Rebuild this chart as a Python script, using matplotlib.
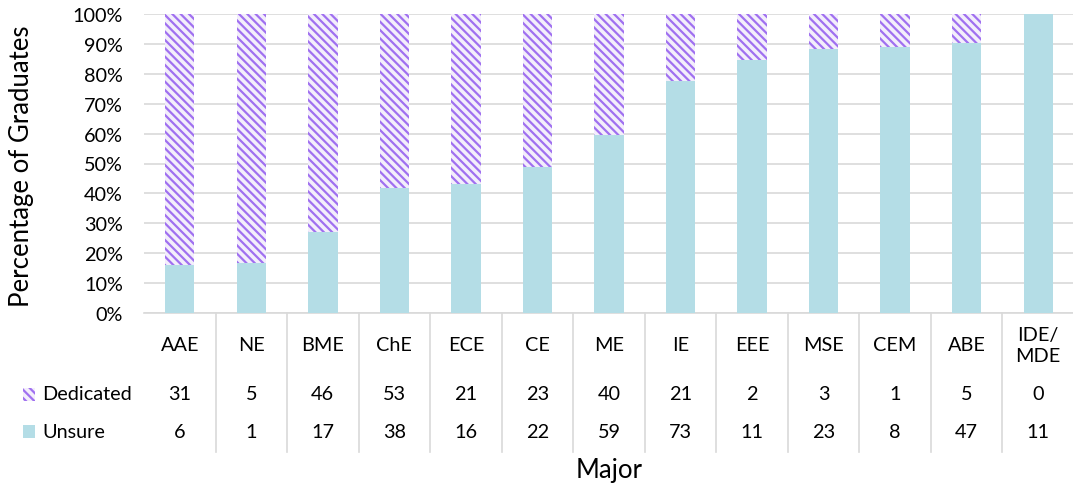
import numpy as np
import matplotlib.pyplot as plt
import matplotlib.transforms as mtransforms
from matplotlib.patches import Rectangle

plt.rcParams['font.family'] = ['Lato', 'DejaVu Sans']
plt.rcParams['hatch.color'] = '#A070F0'
plt.rcParams['hatch.linewidth'] = 1.6

# Data
majors = ["AAE", "NE", "BME", "ChE", "ECE", "CE", "ME", "IE", "EEE", "MSE", "CEM", "ABE", "IDE/\nMDE"]
dedicated = [31, 5, 46, 53, 21, 23, 40, 21, 2, 3, 1, 5, 0]
unsure = [6, 1, 17, 38, 16, 22, 59, 73, 11, 23, 8, 47, 11]

ded = np.array(dedicated, dtype=float)
uns = np.array(unsure, dtype=float)
total = ded + uns
uns_pct = uns / total * 100
ded_pct = ded / total * 100

W, H = 1073, 489
fs = 14.3
fig = plt.figure(figsize=(W / 100, H / 100), dpi=100)
left, right, top, bottom = 144, 1074, 15, 314
ax = fig.add_axes([left / W, 1 - bottom / H, (right - left) / W, (bottom - top) / H])

x = np.arange(len(majors))
blue = '#B4DDE6'
ax.bar(x, uns_pct, width=0.41, color=blue, zorder=3)
ax.bar(x, ded_pct, width=0.41, bottom=uns_pct, color='#F3EEFB', hatch='\\\\\\\\',
       edgecolor='#A070F0', linewidth=0, zorder=3)

ax.set_xlim(-0.5, len(majors) - 0.5)
ax.set_ylim(0, 100)
ax.set_yticks(np.arange(0, 101, 10))
ax.set_yticklabels([f"{v}%" for v in range(0, 101, 10)], fontsize=fs)
ax.yaxis.grid(True, color='#D9D9D9', linewidth=1.2, zorder=0)
ax.tick_params(axis='y', length=0, pad=15)
ax.set_xticks([])
for s in ['top', 'right', 'left']:
    ax.spines[s].set_visible(False)
ax.spines['bottom'].set_color('#D9D9D9')
ax.spines['bottom'].set_linewidth(1.2)

fig.text(22 / W, 1 - 166 / H, "Percentage of Graduates", rotation=90,
         ha='center', va='center', fontsize=18.5)

# Data table below the chart
trans = mtransforms.blended_transform_factory(ax.transData, fig.transFigure)
def fy(py):
    return 1 - py / H

for b in np.arange(0.5, len(majors) - 0.5, 1.0):
    fig.add_artist(plt.Line2D([b, b], [fy(314), fy(453)], transform=trans,
                              color='#D9D9D9', linewidth=1.2))

for i, m in enumerate(majors):
    fig.text(i, fy(346), m, transform=trans, ha='center', va='center',
             fontsize=fs, linespacing=1.25)
    fig.text(i, fy(395), str(dedicated[i]), transform=trans, ha='center', va='center', fontsize=fs)
    fig.text(i, fy(433), str(unsure[i]), transform=trans, ha='center', va='center', fontsize=fs)

# legend keys
fig.add_artist(Rectangle((23 / W, fy(402)), 12 / W, 13 / H, transform=fig.transFigure,
                         facecolor='#F3EEFB', hatch='\\\\\\\\', edgecolor='#A070F0', linewidth=0))
fig.add_artist(Rectangle((23 / W, fy(439)), 12 / W, 13 / H, transform=fig.transFigure,
                         facecolor=blue, linewidth=0))
fig.text(42 / W, fy(395), "Dedicated", ha='left', va='center', fontsize=fs)
fig.text(42 / W, fy(433), "Unsure", ha='left', va='center', fontsize=fs)

fig.text(609 / W, fy(471), "Major", ha='center', va='center', fontsize=18.5)

fig.savefig("out.png", dpi=100)
